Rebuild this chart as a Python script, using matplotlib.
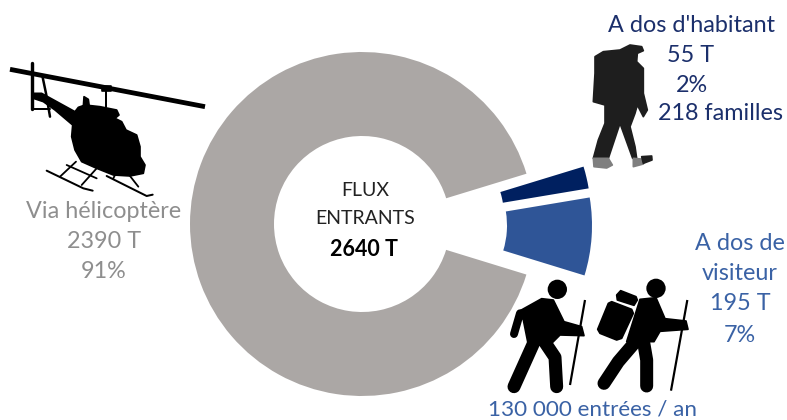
import matplotlib
matplotlib.use("Agg")
import matplotlib.pyplot as plt
from matplotlib.patches import Polygon, Circle

W, H = 787, 420
categories = ["Via hélicoptère", "A dos de visiteur", "A dos d'habitant"]
tonnes = [2390, 195, 55]
total = 2640
colors = ["#ABA7A5", "#2F5597", "#002060"]

plt.rcParams["font.family"] = ["Lato", "DejaVu Sans"]
fig = plt.figure(figsize=(W / 100, H / 100), dpi=100)
ax = fig.add_axes([0, 0, 1, 1])

def Y(y):
    return H - y

wedges, _ = ax.pie(tonnes, colors=colors, startangle=17, counterclock=True,
                   radius=172, center=(362, Y(224)),
                   wedgeprops=dict(width=84, linewidth=0))
wedges[1].set_center((422, Y(225.5)))
wedges[1].set_radius(170)
wedges[1].set_width(85)
wedges[2].set_center((420, Y(216.6)))
wedges[2].set_radius(171)
wedges[2].set_width(87)
ax.set_xlim(0, W)
ax.set_ylim(0, H)
ax.set_aspect("equal")
ax.axis("off")

def T(x, y, s, c, size=16.8, **kw):
    ax.text(x, Y(y), s, color=c, fontsize=size, ha="center", va="center", **kw)

NAVY = "#1B2F6B"
BLUE = "#3A62A5"
GRAY = "#8E8E8E"
T(692, 26, "A dos d'habitant", NAVY)
T(691, 55, "55 T", NAVY)
T(692, 85, "2%", NAVY)
T(721, 113, "218 familles", NAVY)
T(104, 212, "Via hélicoptère", GRAY)
T(104, 242, "2390 T", GRAY)
T(104, 272, "91%", GRAY)
T(740, 243, "A dos de", BLUE)
T(740, 274, "visiteur", BLUE)
T(740, 304, "195 T", BLUE)
T(740, 335, "7%", BLUE)
T(593, 410, "130 000 entrées / an", BLUE, size=16.2)
T(365, 191, "FLUX", "#222222", size=14)
T(365, 219, "ENTRANTS", "#222222", size=14)
T(364, 249, f"{total} T", "#000000", size=15.5, fontweight="bold")

# --- decorative silhouettes (zoom-crop coordinates, 3x, mapped to pixels)
def mapper(x0, y0):
    return lambda p: [(x0 + a / 3, Y(y0 + b / 3)) for a, b in p]

def poly(m, pts, c="black", lw=1.2):
    ax.add_patch(Polygon(m(pts), closed=True, fc=c, ec=c, lw=lw, joinstyle="round", zorder=3))

def line(m, pts, w, c="black", cap="round"):
    xy = m(pts)
    ax.plot([p[0] for p in xy], [p[1] for p in xy], color=c, lw=w * 0.72,
            solid_capstyle=cap, solid_joinstyle="round", zorder=3)

def disc(m, p, r):
    (x, y), = m([p])
    ax.add_patch(Circle((x, y), r / 3, fc="black", ec="none", zorder=3))

# helicopter
h = mapper(0, 50)
line(h, [(30, 58), (615, 170)], 4.8, cap="butt")
line(h, [(97, 38), (97, 178)], 3.4)
line(h, [(128, 82), (138, 130), (150, 200)], 2.5)
line(h, [(100, 178), (150, 178)], 2)
line(h, [(318, 115), (318, 172)], 2)
poly(h, [(305, 108), (332, 108), (332, 122), (305, 122)])
poly(h, [(250, 170), (252, 140), (265, 148), (268, 170)])
poly(h, [(100, 130), (125, 130), (225, 185), (235, 172), (255, 165), (300, 170),
         (350, 180), (357, 195), (345, 205), (365, 215), (378, 240), (410, 255),
         (420, 290), (420, 320), (435, 345), (430, 370), (390, 378), (340, 375),
         (290, 355), (245, 335), (225, 300), (215, 260), (218, 225), (165, 180),
         (130, 155), (100, 145)])
line(h, [(140, 362), (250, 415), (278, 422)], 2)
line(h, [(320, 378), (440, 438), (458, 434)], 2)
line(h, [(200, 345), (290, 385)], 1.8)
line(h, [(228, 335), (180, 380)], 1.8)
line(h, [(290, 355), (245, 405)], 1.8)
line(h, [(390, 378), (415, 410)], 1.8)
line(h, [(345, 375), (340, 385)], 1.8)

# hikers
k = mapper(500, 270)
disc(k, (172, 58), 29)
poly(k, [(55, 125), (125, 86), (160, 90), (192, 155), (245, 170), (252, 197),
         (180, 195), (150, 225), (85, 225), (70, 150)])
line(k, [(60, 130), (42, 192)], 8)
line(k, [(105, 210), (42, 350)], 13)
line(k, [(130, 210), (165, 262), (170, 350)], 13)
line(k, [(255, 90), (210, 345)], 2.2, cap="butt")

disc(k, (468, 55), 29)
poly(k, [(420, 88), (468, 83), (495, 146), (558, 153), (564, 178), (480, 184),
         (462, 215), (380, 215)])
line(k, [(415, 205), (355, 275), (312, 340)], 13)
line(k, [(428, 200), (440, 270), (440, 348)], 13)
line(k, [(562, 90), (513, 362)], 2.2, cap="butt")
poly(k, [(335, 95), (395, 118), (400, 130), (365, 205), (350, 210), (300, 190),
         (293, 178), (325, 100)])
poly(k, [(362, 62), (408, 80), (412, 90), (402, 106), (352, 90), (350, 75)])

# backpacker
b = mapper(580, 30)
DK = "#1E1E1E"
poly(b, [(120, 60), (150, 45), (185, 50), (190, 62), (172, 70), (170, 95), (190, 115),
         (190, 190), (202, 240), (190, 260), (172, 225), (165, 250), (150, 290),
         (165, 350), (170, 385), (158, 385), (120, 280), (100, 340), (85, 385),
         (40, 385), (55, 330), (75, 280), (75, 225), (40, 215), (45, 130),
         (45, 80), (70, 65)], DK)
poly(b, [(40, 385), (85, 385), (97, 405), (80, 414), (42, 410)], "#7F7F7F")
poly(b, [(160, 385), (195, 388), (190, 402), (160, 410)], "#7F7F7F")
poly(b, [(185, 380), (215, 378), (216, 390), (190, 400)], DK)

fig.savefig("out.png", dpi=100)
